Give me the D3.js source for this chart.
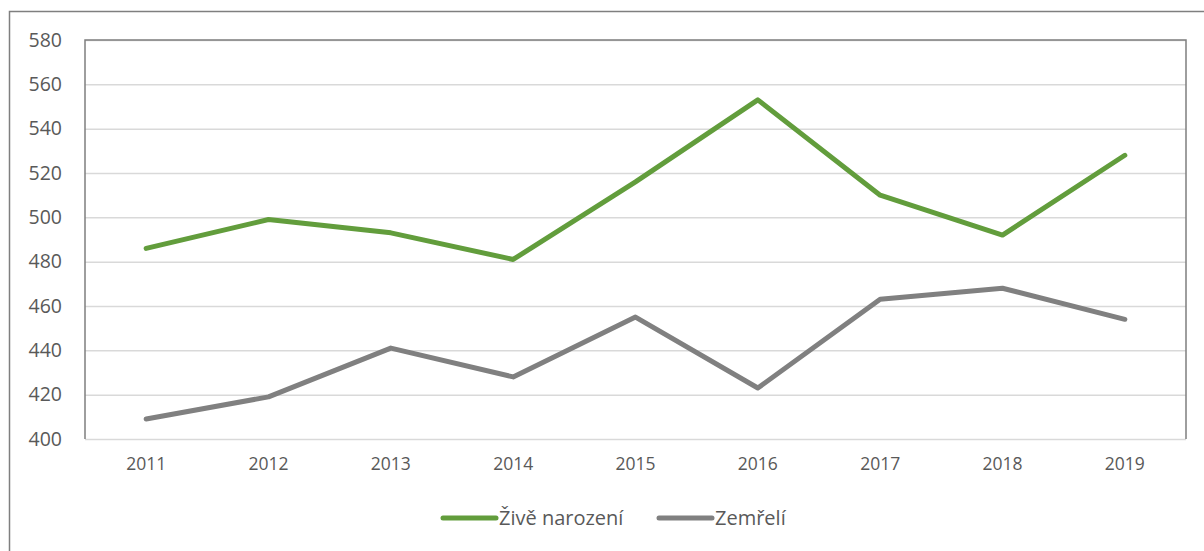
<!DOCTYPE html>
<html>
<head>
<meta charset="UTF-8">
<script src="https://d3js.org/d3.v7.min.js"></script>
<style>
  body { margin: 0; background: #fff; }
  text { font-family: "Open Sans", "DejaVu Sans", sans-serif; fill: #595959; }
</style>
</head>
<body>
<div id="chart"></div>
<script>
// years on the x axis
var years = ["2011", "2012", "2013", "2014", "2015", "2016", "2017", "2018", "2019"];
// live births
var zive = [486, 499, 493, 481, 516, 553, 510, 492, 528];
// deaths
var zemreli = [409, 419, 441, 428, 455, 423, 463, 468, 454];
var yTicks = [400, 420, 440, 460, 480, 500, 520, 540, 560, 580];
var seriesNames = ["Živě narození", "Zemřelí"];
var colors = ["#629d3c", "#808080"];

var width = 1204, height = 551;
var plotL = 85, plotR = 1186, plotT = 40, plotB = 439;

var svg = d3.select("#chart").append("svg")
  .attr("width", width)
  .attr("height", height);

// outer frame (clipped right and bottom like the screenshot)
svg.append("path")
  .attr("d", "M9.5," + height + "V11.5H" + width)
  .attr("fill", "none")
  .attr("stroke", "#7f7f7f")
  .attr("stroke-width", 1.5);

var x = d3.scaleBand().domain(years).range([plotL, plotR]);
var y = d3.scaleLinear().domain([400, 580]).range([plotB, plotT]);

// gridlines
svg.append("g")
  .attr("transform", "translate(" + plotL + ",0)")
  .call(d3.axisLeft(y).tickValues(yTicks).tickSize(-(plotR - plotL)).tickFormat(""))
  .call(function(g) {
    g.select(".domain").remove();
    g.selectAll("line").attr("stroke", "#d9d9d9").attr("stroke-width", 1.5);
  });

// plot area border: left, top, right
svg.append("path")
  .attr("d", "M" + plotL + "," + plotB + "V" + plotT + "H" + plotR + "V" + plotB)
  .attr("fill", "none")
  .attr("stroke", "#7f7f7f")
  .attr("stroke-width", 1.5);

// y labels
svg.append("g")
  .attr("transform", "translate(" + plotL + ",0)")
  .call(d3.axisLeft(y).tickValues(yTicks).tickSize(0).tickPadding(23))
  .call(function(g) {
    g.select(".domain").remove();
    g.selectAll("text").attr("font-size", 19.5).style("fill", "#595959")
      .style("font-family", "'Open Sans', sans-serif");
  });

// x labels
svg.append("g")
  .attr("transform", "translate(0," + plotB + ")")
  .call(d3.axisBottom(x).tickSize(0).tickPadding(19))
  .call(function(g) {
    g.select(".domain").remove();
    g.selectAll("text").attr("font-size", 17.5).style("fill", "#595959")
      .style("font-family", "'Open Sans', sans-serif");
  });

var line = d3.line()
  .x(function(d, i) { return x(years[i]) + x.bandwidth() / 2; })
  .y(function(d) { return y(d); });

[zive, zemreli].forEach(function(s, i) {
  svg.append("path")
    .datum(s)
    .attr("d", line)
    .attr("fill", "none")
    .attr("stroke", colors[i])
    .attr("stroke-width", 5)
    .attr("stroke-linejoin", "round")
    .attr("stroke-linecap", "round");
});

// legend
var legendX = [443, 659];
seriesNames.forEach(function(n, i) {
  var g = svg.append("g").attr("transform", "translate(" + legendX[i] + ",518)");
  g.append("line")
    .attr("x1", 0).attr("x2", 53)
    .attr("stroke", colors[i])
    .attr("stroke-width", 5)
    .attr("stroke-linecap", "round");
  g.append("text")
    .attr("x", 56).attr("y", 7)
    .attr("font-size", 20)
    .text(n);
});
</script>
</body>
</html>
